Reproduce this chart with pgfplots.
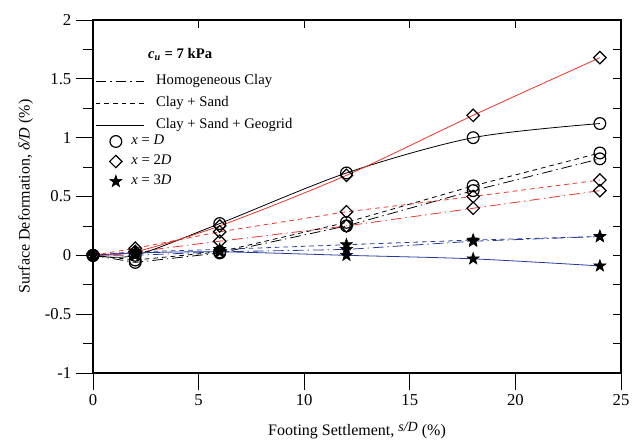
\documentclass[border=0pt]{standalone}
\usepackage{fontspec}
\setmainfont{Liberation Serif}
\usepackage{pgfplots}
\usepackage{pgfplotstable}
\pgfplotsset{compat=1.18}

\definecolor{cred}{RGB}{232,52,42}
\definecolor{cblue}{RGB}{38,58,155}

% filled five-pointed star
\pgfdeclareplotmark{fstar}{%
  \pgfpathmoveto{\pgfpointpolar{90}{\pgfplotmarksize}}%
  \pgfpathlineto{\pgfpointpolar{126}{0.4\pgfplotmarksize}}%
  \pgfpathlineto{\pgfpointpolar{162}{\pgfplotmarksize}}%
  \pgfpathlineto{\pgfpointpolar{198}{0.4\pgfplotmarksize}}%
  \pgfpathlineto{\pgfpointpolar{234}{\pgfplotmarksize}}%
  \pgfpathlineto{\pgfpointpolar{270}{0.4\pgfplotmarksize}}%
  \pgfpathlineto{\pgfpointpolar{306}{\pgfplotmarksize}}%
  \pgfpathlineto{\pgfpointpolar{342}{0.4\pgfplotmarksize}}%
  \pgfpathlineto{\pgfpointpolar{18}{\pgfplotmarksize}}%
  \pgfpathlineto{\pgfpointpolar{54}{0.4\pgfplotmarksize}}%
  \pgfpathclose
  \pgfusepathqfillstroke}

\pgfplotsset{
  homog/.style={line width=0.6pt, dash pattern=on 8pt off 3pt on 1pt off 3pt},
  sand/.style={line width=0.6pt, dash pattern=on 3.5pt off 3pt},
  geo/.style={line width=0.6pt, solid},
  mD/.style={mark=o, mark size=4.4pt, mark options={solid, draw=black, line width=0.9pt}},
  mDD/.style={mark=square, mark size=3.3pt, mark options={solid, rotate=45, draw=black, line width=0.9pt}},
  mDDD/.style={mark=fstar, mark size=4.8pt, mark options={solid, draw=black, fill=black, line width=0.4pt}},
}

% surface deformation delta/D (%) at x = D, 2D, 3D vs. settlement s/D (%)
\pgfplotstableread{
s    D      DD     DDD
0    0      0      0
2   -0.06   0.03   0.00
6    0.02   0.12   0.03
12   0.25   0.25   0.05
18   0.55   0.40   0.12
24   0.82   0.55   0.16
}\homogeneous
\pgfplotstableread{
s    D      DD     DDD
0    0      0      0
2   -0.04   0.06   0.03
6    0.03   0.20   0.05
12   0.28   0.37   0.09
18   0.59   0.50   0.13
24   0.87   0.64   0.16
}\claysand
\pgfplotstableread{
s    D      DD     DDD
0    0      0      0
2    0.00   0.03   0.02
6    0.27   0.25   0.03
12   0.70   0.68   0.00
18   1.00   1.19  -0.03
24   1.12   1.68  -0.09
}\geogrid

\begin{document}
\begin{tikzpicture}
\begin{axis}[
  scale only axis, width=396pt, height=264.75pt,
  xmin=0, xmax=25, ymin=-1, ymax=2,
  xtick={0,5,...,25}, ytick={-1,-0.5,...,2},
  minor y tick num=1,
  tick align=outside, xtick pos=bottom, ytick pos=left,
  major tick length=12.75pt, minor tick length=7.5pt,
  tick style={black, line width=0.6pt},
  axis line style={line width=0.8pt},
  /pgf/number format/assume math mode=true,
  tick label style={font=\fontsize{12.5}{14}\selectfont},
  label style={font=\fontsize{12}{14}\selectfont},
  xlabel style={yshift=-5pt},
  ylabel style={yshift=2pt},
  xlabel={Footing Settlement, \raisebox{0.6ex}{\fontsize{10.5}{12}\selectfont\textit{s/D}} (\%)},
  ylabel={Surface Deformation, \textit{δ/D} (\%)},
  legend cell align=left,
  legend image code/.code={\draw[#1] (0pt,0pt) -- (36pt,0pt);},
  legend style={draw=none, fill=none, at={(rel axis cs:0.0076,0.853)}, anchor=north west,
    xshift=-4.5pt,
    font=\fontsize{11}{13}\selectfont, row sep=6.3pt, column sep=9pt,
    nodes={inner sep=0pt, text height=7.5pt, text depth=2.5pt}},
]
\coordinate (bbsw) at (rel axis cs:0,0);
\coordinate (bbne) at (rel axis cs:1,1);

\addlegendimage{black, homog}
\addlegendentry{Homogeneous Clay}
\addlegendimage{black, sand}
\addlegendentry{Clay + Sand}
\addlegendimage{black, geo}
\addlegendentry{Clay + Sand + Geogrid}

% homogeneous clay
\addplot[black, homog, mD, forget plot] table[x=s, y=D] {\homogeneous};
\addplot[cred, homog, mDD, forget plot] table[x=s, y=DD] {\homogeneous};
\addplot[cblue, homog, mDDD, forget plot] table[x=s, y=DDD] {\homogeneous};
% clay + sand
\addplot[black, sand, mD, forget plot] table[x=s, y=D] {\claysand};
\addplot[cred, sand, mDD, forget plot] table[x=s, y=DD] {\claysand};
\addplot[cblue, sand, mDDD, forget plot] table[x=s, y=DDD] {\claysand};
% clay + sand + geogrid
\addplot[black, geo, smooth, mD, forget plot] table[x=s, y=D] {\geogrid};
\addplot[cred, geo, smooth, mDD, forget plot] table[x=s, y=DD] {\geogrid};
\addplot[cblue, geo, smooth, mDDD, forget plot] table[x=s, y=DDD] {\geogrid};

\node[font=\fontsize{11}{13}\selectfont\bfseries] at (rel axis cs:0.165,0.902)
  {\textit{c}\textsubscript{\textit{u}} = 7 kPa};
\end{axis}

\begin{axis}[
  scale only axis, width=396pt, height=264.75pt,
  xmin=0, xmax=25, ymin=-1, ymax=2,
  xtick={5,10,15,20}, ytick={-0.75,-0.5,...,1.75},
  xtick pos=top, ytick pos=right,
  tick align=inside, major tick length=6pt,
  tick style={black, line width=0.6pt},
  axis line style={line width=0.8pt},
  xticklabels={}, yticklabels={},
  legend cell align=left,
  legend image code/.code={\draw[#1] plot coordinates {(0pt,0pt)};},
  legend style={draw=none, fill=none, at={(rel axis cs:0.031,0.683)}, anchor=north west,
    xshift=-3pt,
    font=\fontsize{11}{13}\selectfont, row sep=5pt, column sep=7pt,
    nodes={inner sep=0pt, text height=7.5pt, text depth=2.5pt}},
]
\addlegendimage{mD}
\addlegendentry{\textit{x} = \textit{D}}
\addlegendimage{mDD}
\addlegendentry{\textit{x} = 2\textit{D}}
\addlegendimage{mDDD}
\addlegendentry{\textit{x} = 3\textit{D}}
\end{axis}

\pgfresetboundingbox
\path ([shift={(-69.75pt,-53.25pt)}]bbsw) rectangle ([shift={(15pt,15pt)}]bbne);
\end{tikzpicture}
\end{document}
